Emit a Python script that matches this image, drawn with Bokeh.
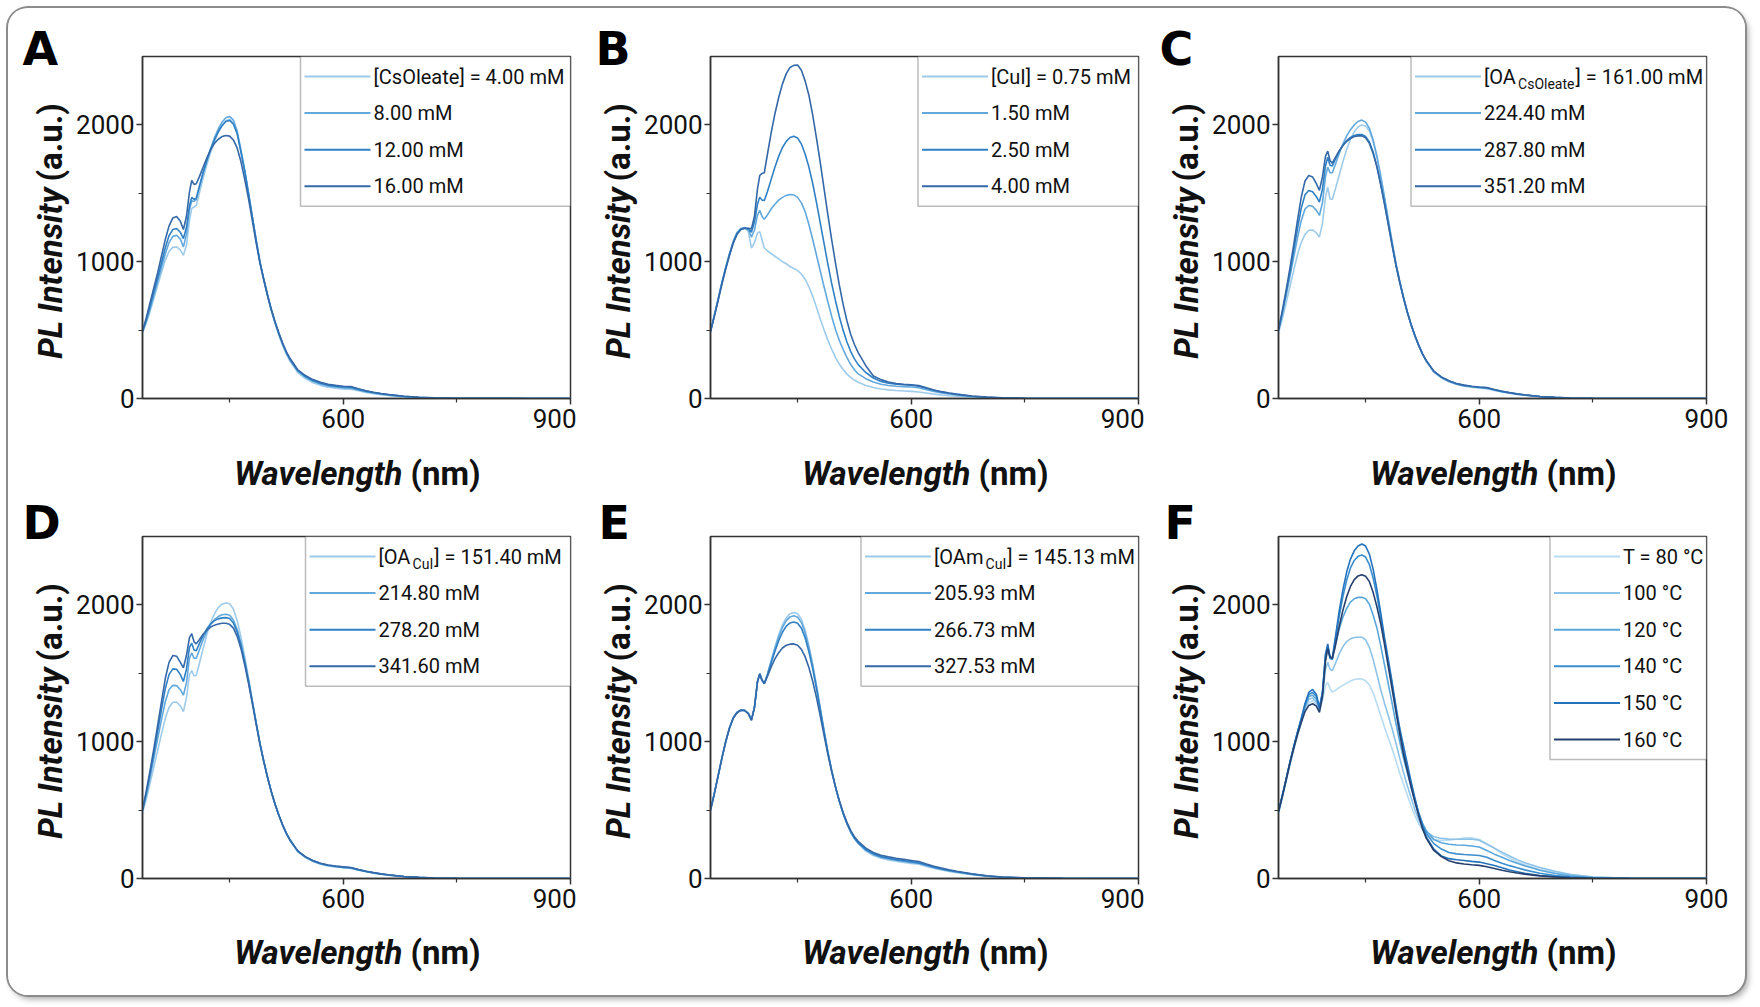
from math import pi
from bokeh.plotting import figure
from bokeh.models import Range1d, FixedTicker, Label, BoxAnnotation
from bokeh.layouts import row, column
from bokeh.embed import file_html
from bokeh.resources import INLINE

# ---------------- data ----------------
WAVELENGTH = [335, 340, 345, 350, 355, 360, 365, 370, 375, 380, 385,
              389, 393, 397, 400, 403, 406,
              410, 415, 420, 425, 430, 435, 440, 445, 450, 455, 460, 465, 470, 475, 480,
              485, 490, 495, 500, 505, 510, 515, 520, 525, 530,
              540, 550, 560, 570, 580, 590, 600, 610, 620, 630, 640, 650, 660,
              680, 700, 720, 750, 800, 850, 900]

# Panel A: [CsOleate]
A_4_00 = [480, 550, 635, 730, 825, 920, 1010, 1075, 1105, 1108, 1085,
          1047, 1120, 1300, 1390, 1400, 1410,
          1500, 1610, 1710, 1800, 1880, 1945, 1995, 2030, 2040, 2015, 1940, 1805, 1660, 1495, 1325,
          1155, 995, 865, 748, 640, 548, 462, 388, 322, 270,
          190, 145, 115, 96, 83, 76, 70, 68, 56, 44, 35, 28, 22,
          12, 6, 3, 1, 0, 0, 0]
A_8_00 = [490, 565, 655, 755, 855, 955, 1055, 1140, 1185, 1193, 1165,
          1108, 1200, 1380, 1445, 1440, 1455,
          1545, 1650, 1745, 1830, 1905, 1970, 2020, 2052, 2062, 2035, 1955, 1815, 1670, 1500, 1330,
          1160, 1000, 872, 756, 648, 556, 472, 398, 332, 280,
          200, 156, 126, 106, 92, 85, 78, 76, 63, 50, 40, 32, 25,
          14, 7, 3, 1, 0, 0, 0]
A_12_00 = [490, 575, 675, 780, 885, 990, 1100, 1190, 1235, 1242, 1215,
           1169, 1250, 1410, 1470, 1455, 1465,
           1550, 1650, 1740, 1820, 1890, 1950, 1995, 2025, 2033, 2005, 1935, 1800, 1660, 1495, 1325,
           1160, 1000, 875, 760, 652, 560, 476, 402, 336, 285,
           205, 162, 132, 112, 98, 90, 84, 82, 68, 54, 44, 35, 28,
           16, 8, 4, 2, 1, 0, 0]
A_16_00 = [490, 590, 700, 810, 920, 1040, 1160, 1260, 1320, 1330, 1295,
           1235, 1330, 1510, 1595, 1565, 1570,
           1620, 1690, 1760, 1820, 1865, 1895, 1915, 1923, 1918, 1890, 1830, 1730, 1600, 1460, 1300,
           1140, 990, 870, 755, 650, 560, 478, 405, 340, 290,
           210, 168, 138, 118, 104, 96, 90, 88, 72, 57, 46, 37, 29,
           17, 9, 5, 2, 1, 0, 0]

# Panel B: [CuI]
B_0_75 = [490, 610, 730, 850, 960, 1060, 1150, 1215, 1245, 1250, 1220,
          1100, 1140, 1210, 1220, 1160, 1100,
          1080, 1060, 1040, 1020, 1000, 985, 965, 950, 935, 910, 870, 815, 745, 665, 580,
          500, 425, 360, 300, 252, 212, 180, 155, 135, 118,
          95, 80, 70, 63, 58, 55, 52, 48, 40, 32, 26, 20, 16,
          9, 5, 2, 1, 0, 0, 0]
B_1_50 = [490, 605, 725, 845, 955, 1055, 1145, 1210, 1240, 1248, 1235,
          1180, 1230, 1340, 1375, 1330, 1310,
          1340, 1385, 1420, 1450, 1470, 1485, 1491, 1488, 1470, 1430, 1365, 1270, 1160, 1045, 930,
          815, 705, 600, 505, 425, 360, 300, 250, 210, 180,
          145, 120, 104, 95, 90, 87, 84, 78, 64, 51, 41, 33, 26,
          15, 8, 4, 1, 0, 0, 0]
B_2_50 = [490, 600, 720, 840, 950, 1050, 1140, 1205, 1235, 1245, 1240,
          1216, 1290, 1420, 1472, 1450, 1448,
          1510, 1600, 1690, 1770, 1835, 1880, 1908, 1917, 1905, 1860, 1785, 1690, 1570, 1430, 1280,
          1130, 980, 840, 715, 600, 500, 415, 345, 290, 248,
          190, 150, 125, 112, 105, 100, 97, 90, 75, 60, 48, 38, 30,
          17, 9, 4, 2, 0, 0, 0]
B_4_00 = [490, 600, 715, 835, 945, 1045, 1135, 1200, 1235, 1245, 1245,
          1240, 1330, 1530, 1630, 1645, 1650,
          1780, 1940, 2080, 2200, 2300, 2375, 2420, 2435, 2438, 2400, 2320, 2215, 2070, 1900, 1720,
          1530, 1340, 1160, 990, 830, 690, 570, 470, 395, 335,
          240, 165, 138, 120, 110, 104, 100, 94, 78, 62, 50, 40, 32,
          18, 10, 5, 2, 0, 0, 0]

# Panel C: [OA CsOleate]
C_161_00 = [480, 580, 695, 815, 935, 1050, 1140, 1200, 1230, 1232, 1210,
            1180, 1280, 1470, 1545, 1460, 1455,
            1530, 1630, 1730, 1820, 1895, 1950, 1985, 2000, 1992, 1955, 1875, 1760, 1620, 1465, 1300,
            1140, 985, 855, 738, 632, 540, 458, 386, 323, 272,
            192, 150, 122, 102, 90, 82, 76, 72, 59, 47, 38, 30, 24,
            13, 7, 3, 1, 0, 0, 0]
C_224_40 = [495, 615, 750, 890, 1030, 1170, 1300, 1385, 1411, 1405, 1375,
            1338, 1430, 1620, 1691, 1650, 1650,
            1710, 1790, 1860, 1920, 1965, 2000, 2025, 2035, 2020, 1975, 1890, 1770, 1625, 1470, 1305,
            1145, 990, 860, 742, 636, 543, 462, 390, 328, 277,
            197, 154, 126, 106, 94, 86, 80, 76, 62, 50, 40, 32, 25,
            14, 7, 3, 1, 0, 0, 0]
C_287_80 = [500, 630, 770, 920, 1080, 1240, 1390, 1490, 1521, 1512, 1475,
            1436, 1530, 1700, 1764, 1705, 1700,
            1750, 1805, 1850, 1885, 1908, 1922, 1930, 1930, 1915, 1875, 1800, 1695, 1565, 1425, 1275,
            1122, 978, 852, 737, 632, 540, 460, 389, 327, 277,
            198, 156, 128, 108, 96, 88, 82, 78, 64, 52, 42, 33, 26,
            15, 8, 4, 2, 0, 0, 0]
C_351_20 = [500, 640, 790, 950, 1120, 1300, 1470, 1590, 1630, 1620, 1570,
            1521, 1620, 1770, 1808, 1740, 1720,
            1760, 1810, 1850, 1880, 1900, 1915, 1920, 1920, 1905, 1865, 1790, 1690, 1560, 1420, 1270,
            1120, 975, 850, 735, 630, 540, 460, 390, 328, 278,
            200, 158, 130, 110, 98, 90, 84, 80, 66, 53, 43, 34, 27,
            15, 8, 4, 2, 0, 0, 0]

# Panel D: [OA CuI]
D_151_40 = [480, 580, 695, 815, 935, 1055, 1170, 1250, 1288, 1290, 1262,
            1220, 1320, 1490, 1520, 1480, 1485,
            1570, 1680, 1785, 1870, 1935, 1980, 2005, 2014, 2008, 1970, 1885, 1765, 1622, 1468, 1303,
            1143, 988, 857, 740, 634, 541, 460, 388, 325, 274,
            194, 152, 124, 104, 92, 84, 78, 74, 61, 49, 39, 31, 24,
            13, 7, 3, 1, 0, 0, 0]
D_214_80 = [495, 610, 740, 880, 1020, 1160, 1290, 1380, 1412, 1410, 1380,
            1340, 1430, 1610, 1650, 1610, 1610,
            1670, 1745, 1810, 1858, 1892, 1915, 1928, 1932, 1925, 1890, 1820, 1720, 1590, 1448, 1295,
            1140, 990, 860, 742, 636, 543, 462, 390, 328, 278,
            198, 156, 127, 107, 95, 87, 81, 77, 63, 51, 41, 32, 25,
            14, 7, 3, 1, 0, 0, 0]
D_278_20 = [500, 625, 765, 915, 1075, 1235, 1385, 1490, 1532, 1530, 1490,
            1440, 1530, 1690, 1720, 1670, 1665,
            1715, 1775, 1825, 1862, 1885, 1898, 1905, 1907, 1900, 1868, 1800, 1705, 1580, 1440, 1290,
            1138, 990, 860, 742, 636, 543, 462, 391, 329, 279,
            200, 158, 129, 109, 97, 89, 83, 79, 65, 52, 42, 33, 26,
            15, 8, 4, 2, 0, 0, 0]
D_341_60 = [500, 640, 790, 950, 1120, 1290, 1460, 1580, 1630, 1625, 1580,
            1540, 1630, 1760, 1790, 1730, 1715,
            1745, 1785, 1815, 1838, 1852, 1860, 1866, 1866, 1858, 1830, 1770, 1680, 1560, 1425, 1278,
            1128, 982, 856, 740, 635, 542, 462, 392, 330, 280,
            202, 160, 131, 111, 99, 91, 85, 80, 66, 53, 43, 34, 27,
            15, 8, 4, 2, 0, 0, 0]

# Panel E: [OAm CuI]
E_145_13 = [500, 620, 750, 880, 1000, 1100, 1175, 1215, 1231, 1228, 1205,
            1159, 1250, 1440, 1498, 1450, 1425,
            1490, 1590, 1690, 1780, 1855, 1905, 1935, 1945, 1935, 1895, 1815, 1700, 1565, 1410, 1245,
            1080, 925, 790, 670, 565, 475, 400, 338, 290, 255,
            200, 168, 148, 136, 126, 118, 110, 104, 88, 74, 62, 52, 43,
            28, 16, 8, 3, 1, 0, 0]
E_205_93 = [500, 620, 750, 880, 1000, 1100, 1175, 1215, 1232, 1230, 1207,
            1160, 1252, 1440, 1498, 1452, 1427,
            1488, 1585, 1680, 1765, 1835, 1885, 1912, 1920, 1910, 1872, 1795, 1685, 1552, 1400, 1238,
            1075, 922, 788, 668, 564, 475, 402, 340, 292, 258,
            208, 176, 156, 144, 134, 126, 118, 111, 95, 80, 68, 57, 47,
            31, 17, 9, 4, 1, 0, 0]
E_266_73 = [500, 618, 748, 878, 998, 1098, 1173, 1213, 1230, 1229, 1206,
            1158, 1250, 1438, 1496, 1450, 1426,
            1485, 1575, 1660, 1738, 1800, 1845, 1868, 1875, 1866, 1830, 1758, 1655, 1530, 1385, 1228,
            1070, 920, 788, 670, 567, 478, 405, 344, 296, 262,
            212, 180, 160, 148, 138, 130, 122, 114, 98, 83, 70, 59, 49,
            32, 18, 10, 4, 1, 0, 0]
E_327_53 = [500, 618, 748, 878, 998, 1098, 1172, 1212, 1229, 1228, 1205,
            1157, 1248, 1436, 1494, 1448, 1424,
            1475, 1545, 1605, 1650, 1685, 1705, 1713, 1715, 1705, 1675, 1620, 1540, 1440, 1320, 1185,
            1045, 905, 780, 668, 570, 484, 412, 352, 305, 272,
            222, 190, 170, 158, 148, 140, 132, 124, 106, 90, 76, 64, 53,
            35, 20, 11, 5, 1, 0, 0]

# Panel F: temperature
F_80 = [470, 585, 705, 825, 935, 1040, 1135, 1225, 1285, 1300, 1275,
        1220, 1300, 1410, 1435, 1390, 1362,
        1375, 1395, 1412, 1428, 1443, 1455, 1460, 1458, 1445, 1415, 1355, 1275, 1190, 1105, 1025,
        949, 860, 770, 690, 610, 530, 460, 400, 355, 320,
        285, 278, 280, 287, 295, 297, 285, 255, 220, 182, 150, 122, 100,
        66, 42, 25, 10, 2, 0, 0]
F_100 = [480, 595, 715, 835, 948, 1055, 1150, 1245, 1310, 1320, 1290,
         1230, 1330, 1530, 1581, 1530, 1520,
         1570, 1640, 1695, 1732, 1752, 1762, 1764, 1764, 1745, 1690, 1600, 1490, 1380, 1280, 1190,
         1095, 990, 880, 775, 680, 590, 505, 430, 375, 340,
         305, 293, 288, 287, 287, 287, 280, 250, 222, 193, 165, 138, 115,
         80, 52, 30, 11, 2, 0, 0]
F_120 = [490, 605, 725, 845, 958, 1065, 1160, 1255, 1330, 1340, 1310,
         1240, 1350, 1600, 1690, 1610, 1605,
         1700, 1820, 1910, 1975, 2020, 2045, 2055, 2056, 2045, 2005, 1925, 1830, 1700, 1560, 1420,
         1280, 1135, 1000, 880, 775, 670, 570, 480, 405, 350,
         285, 262, 250, 245, 243, 238, 230, 205, 178, 155, 132, 112, 93,
         60, 36, 20, 7, 1, 0, 0]
F_140 = [490, 605, 725, 848, 960, 1068, 1165, 1270, 1345, 1360, 1330,
         1245, 1355, 1620, 1700, 1610, 1600,
         1740, 1910, 2060, 2180, 2270, 2325, 2355, 2365, 2350, 2295, 2195, 2065, 1905, 1735, 1575,
         1411, 1240, 1080, 940, 815, 695, 575, 480, 398, 330,
         255, 215, 190, 180, 175, 172, 168, 155, 132, 112, 94, 78, 63,
         38, 22, 12, 4, 1, 0, 0]
F_150 = [490, 605, 725, 848, 962, 1070, 1170, 1280, 1360, 1382, 1345,
         1250, 1360, 1640, 1715, 1620, 1610,
         1760, 1950, 2110, 2240, 2335, 2395, 2430, 2445, 2430, 2370, 2260, 2110, 1940, 1760, 1600,
         1436, 1260, 1100, 970, 840, 710, 590, 475, 380, 305,
         215, 165, 145, 137, 132, 125, 120, 108, 95, 78, 62, 50, 38,
         22, 14, 7, 3, 0, 0, 0]
F_160 = [490, 600, 720, 840, 950, 1050, 1140, 1220, 1265, 1277, 1260,
         1215, 1330, 1590, 1680, 1620, 1610,
         1700, 1840, 1960, 2060, 2135, 2185, 2212, 2221, 2210, 2170, 2090, 1985, 1860, 1710, 1545,
         1385, 1220, 1060, 910, 790, 670, 560, 460, 365, 295,
         205, 160, 130, 114, 106, 100, 96, 86, 73, 60, 49, 40, 32,
         19, 11, 6, 2, 0, 0, 0]

X_TICKS = [600, 900]
X_MINOR = [450, 750]
Y_TICKS = [0, 1000, 2000]
Y_MINOR = [500, 1500]

LEGEND_A = [[("[CsOleate] = 4.00 mM", "n")], [("8.00 mM", "n")], [("12.00 mM", "n")], [("16.00 mM", "n")]]
LEGEND_B = [[("[CuI] = 0.75 mM", "n")], [("1.50 mM", "n")], [("2.50 mM", "n")], [("4.00 mM", "n")]]
LEGEND_C = [[("[OA", "n"), ("CsOleate", "s"), ("] = 161.00 mM", "n")],
            [("224.40 mM", "n")], [("287.80 mM", "n")], [("351.20 mM", "n")]]
LEGEND_D = [[("[OA", "n"), ("CuI", "s"), ("] = 151.40 mM", "n")],
            [("214.80 mM", "n")], [("278.20 mM", "n")], [("341.60 mM", "n")]]
LEGEND_E = [[("[OAm", "n"), ("CuI", "s"), ("] = 145.13 mM", "n")],
            [("205.93 mM", "n")], [("266.73 mM", "n")], [("327.53 mM", "n")]]
LEGEND_F = [[("T = 80 °C", "n")], [("100 °C", "n")], [("120 °C", "n")],
            [("140 °C", "n")], [("150 °C", "n")], [("160 °C", "n")]]

BLUE4 = ["#9fcbea", "#62a8dc", "#2f80c4", "#3468a8"]
BLUE6 = ["#b7dbf1", "#8cc2e7", "#5aa7db", "#3a8ecf", "#2472bc", "#25406e"]

# ---------------- styling ----------------
FONT = "Roboto"
FW, FH = 428, 342
TXT = "#111111"
LEG_SIZE, SUB_SIZE = 20, 14
STRIP_W = 64
MAIN_LEFT = 70
BOTTOM_BORDER = 42
TOP_BORDERS = (48, 38)
STRIP_HS = (58, 75)
TITLE_BASES = (25, 43)
TOTAL_H = sum(TOP_BORDERS) + 2 * (FH + BOTTOM_BORDER) + sum(STRIP_HS)

RW = {' ': 248, '[': 213, ']': 213, '=': 549, '.': 264, 'A': 652, 'O': 688, 'm': 876,
      'C': 651, 's': 516, 'l': 242, 'e': 530, 'a': 544, 't': 327, 'u': 551, 'I': 272, 'M': 873}


def text_w(s, size):
    return sum(RW.get(c, 562) for c in s) / 1000.0 * size


def bare_figure(w, h):
    f = figure(frame_width=w, frame_height=h, min_border=0, output_backend="svg",
               toolbar_location=None, x_axis_location=None, y_axis_location=None,
               x_range=Range1d(0, 1), y_range=Range1d(0, 1))
    f.grid.visible = False
    f.outline_line_color = None
    f.background_fill_color = "white"
    f.border_fill_color = "white"
    return f


def slabel(fig, x, y, text, size, style="normal", align="left", baseline="alphabetic",
           angle=0.0, font=FONT, color=TXT):
    fig.add_layout(Label(x=x, y=y, x_units="screen", y_units="screen", text=text,
                         angle=angle, text_font=font, text_font_size=f"{size}px",
                         text_font_style=style, text_color=color,
                         text_align=align, text_baseline=baseline))


def add_legend(p, entries, colors, box_left):
    n = len(entries)
    r0, step = 20, 36.6
    box_h = 2 * r0 + (n - 1) * step
    p.add_layout(BoxAnnotation(left=box_left, right=FW, top=FH, bottom=FH - box_h,
                               left_units="screen", right_units="screen",
                               top_units="screen", bottom_units="screen",
                               fill_color="white", fill_alpha=1.0,
                               line_color="#222222", line_width=1.5))
    for i, (entry, c) in enumerate(zip(entries, colors)):
        yc = FH - r0 - i * step
        p.add_layout(BoxAnnotation(left=box_left + 4, right=box_left + 70, top=yc + 1, bottom=yc - 1,
                                   left_units="screen", right_units="screen",
                                   top_units="screen", bottom_units="screen",
                                   fill_color=c, fill_alpha=1.0, line_color=None))
        x = box_left + 73
        for text, kind in entry:
            if kind == "n":
                slabel(p, x, yc, text, LEG_SIZE, baseline="middle")
                x += text_w(text, LEG_SIZE)
            else:
                x += 3
                slabel(p, x, yc - 7, text, SUB_SIZE, baseline="middle")
                x += text_w(text, SUB_SIZE) + 1


def main_plot(series, colors, legend, box_left, right_border, top_border):
    p = figure(frame_width=FW, frame_height=FH, output_backend="svg", toolbar_location=None,
               x_range=Range1d(335, 900), y_range=Range1d(0, 2500),
               min_border_left=MAIN_LEFT, min_border_right=right_border,
               min_border_top=top_border, min_border_bottom=BOTTOM_BORDER)
    p.grid.visible = False
    p.background_fill_color = "white"
    p.border_fill_color = "white"
    p.outline_line_color = "#333333"
    p.outline_line_width = 1.5
    p.xaxis.ticker = FixedTicker(ticks=X_TICKS, minor_ticks=X_MINOR)
    p.yaxis.ticker = FixedTicker(ticks=Y_TICKS, minor_ticks=Y_MINOR)
    for ax in (p.xaxis[0], p.yaxis[0]):
        ax.axis_line_color = "#333333"
        ax.axis_line_width = 1.5
        ax.major_tick_line_color = "#333333"
        ax.major_tick_line_width = 1.5
        ax.minor_tick_line_color = "#333333"
        ax.minor_tick_line_width = 1.2
        ax.major_tick_in = 0
        ax.major_tick_out = 6
        ax.minor_tick_in = 0
        ax.minor_tick_out = 4
        ax.major_label_text_font = FONT
        ax.major_label_text_font_size = "26px"
        ax.major_label_text_color = TXT
    p.yaxis.major_label_standoff = 2
    p.xaxis.major_label_standoff = 4
    for ys, c in zip(series, colors):
        p.line(WAVELENGTH, ys, line_color=c, line_width=1.6)
    add_legend(p, legend, colors, box_left)
    return p


def title_strip(right_border, strip_h, base):
    # x-axis title with mixed styles (strip frame is aligned with the main frame)
    bs = bare_figure(FW + right_border, strip_h)
    slabel(bs, 260, base, "Wavelength", 33, style="bold italic", align="right")
    slabel(bs, 268, base, "(nm)", 33, style="bold", align="left")
    return bs


def make_column(top, bottom, right_border):
    # top / bottom: (letter, series, colors, legend, box_left, letter_x)
    parts = []
    for k, spec in enumerate((top, bottom)):
        letter, series, colors, legend, box_left, letter_x = spec
        parts.append(main_plot(series, colors, legend, box_left, right_border, TOP_BORDERS[k]))
        parts.append(title_strip(right_border, STRIP_HS[k], TITLE_BASES[k]))
    # full-height left strip: panel letters and y-axis titles for both rows
    ls = bare_figure(STRIP_W, TOTAL_H)
    fb_bottom = STRIP_HS[1] + BOTTOM_BORDER
    fb_top = fb_bottom + FH + TOP_BORDERS[1] + STRIP_HS[0] + BOTTOM_BORDER
    letter_bases = (TOTAL_H - 40, 473)
    for k, (spec, fb) in enumerate(zip((top, bottom), (fb_top, fb_bottom))):
        slabel(ls, 42, fb + 211, "PL Intensity", 33, style="bold italic", align="right", angle=pi / 2)
        slabel(ls, 42, fb + 217, "(a.u.)", 33, style="bold", align="left", angle=pi / 2)
        slabel(ls, spec[5], letter_bases[k], spec[0], 46, style="bold", font="DejaVu Sans",
               color="#000000")
    return row(ls, column(*parts))


colA = make_column(("A", [A_4_00, A_8_00, A_12_00, A_16_00], BLUE4, LEGEND_A, 158, 14),
                   ("D", [D_151_40, D_214_80, D_278_20, D_341_60], BLUE4, LEGEND_D, 163, 14), 6)
colB = make_column(("B", [B_0_75, B_1_50, B_2_50, B_4_00], BLUE4, LEGEND_B, 207.5, 19),
                   ("E", [E_145_13, E_205_93, E_266_73, E_327_53], BLUE4, LEGEND_E, 150.5, 22), 6)
colC = make_column(("C", [C_161_00, C_224_40, C_287_80, C_351_20], BLUE4, LEGEND_C, 132.5, 15),
                   ("F", [F_80, F_100, F_120, F_140, F_150, F_160], BLUE6, LEGEND_F, 271.5, 20), 39)

layout = row(colA, colB, colC, margin=(8, 0, 0, 8),
             styles={"border-radius": "20px",
                     "box-shadow": "0 0 0 2px #8c8c8c, 3px 4px 6px rgba(0,0,0,0.35)",
                     "overflow": "hidden", "background-color": "white"})

open("out.html", "w").write(file_html(layout, INLINE))
